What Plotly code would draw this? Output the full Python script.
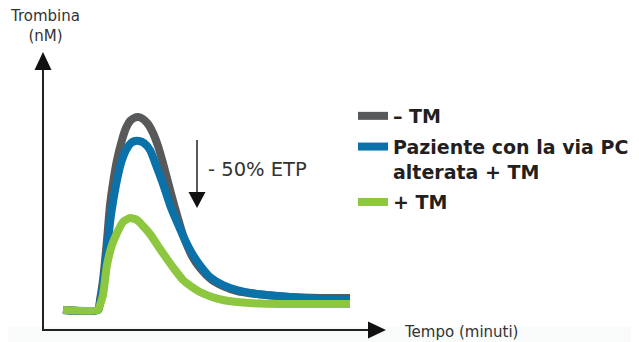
import plotly.graph_objects as go

# ---- data (time in minutes, thrombin in nM; schematic values) ----
t_grey = [2.1, 5.6, 5.8, 6.1, 6.5, 6.8, 7.1, 7.5, 8.0, 8.4, 8.8, 9.2, 9.6, 10.1, 10.6, 11.1, 11.6, 12.1, 12.6,
          13.3, 14.1, 15.0, 15.8, 17.0, 18.1, 19.5, 21.5, 24.8, 27.8, 30.8]
v_grey = [8.5, 8.5, 13.5, 23.5, 43.5, 61, 72, 83.5, 93.5, 99.5, 103, 104.5, 105, 104, 101.5, 97, 90.5, 82, 72.5,
          59.5, 46, 35.5, 29.5, 23.5, 20.5, 18, 16.5, 15, 14.5, 14.5]

t_blue = [2.1, 5.6, 5.8, 6.1, 6.5, 6.9, 7.4, 7.9, 8.4, 8.9, 9.3, 9.7, 10.2, 10.8, 11.4, 12.1, 12.8, 13.5, 14.3,
          15.1, 16.0, 16.8, 18.1, 19.5, 21.5, 24.8, 27.8, 30.8]
v_blue = [8.5, 8.5, 12.5, 21, 38.5, 56, 71, 82, 88.5, 92, 93, 93, 92, 88.5, 81, 71.5, 61, 52.5, 43.5,
          36, 29.5, 25, 21, 18.5, 16.5, 15, 14, 14]

t_green = [2.1, 5.6, 5.8, 6.1, 6.5, 7.0, 7.5, 8.1, 8.8, 9.5, 10.1, 10.8, 11.6, 12.5, 13.3, 14.1, 15.0, 15.8,
           17.0, 18.1, 19.5, 20.8, 23.8, 27.8, 30.8]
v_green = [8.5, 8.5, 11, 16, 31, 41, 47, 52.5, 54.5, 53.5, 50.5, 46.5, 40.5, 34, 28.5, 23.5, 20, 17.5,
           15, 13.5, 12.5, 12, 11.5, 11.5, 11.5]

names = ["<b>– TM</b>", "<b>Paziente con la via PC<br>alterata + TM</b>", "<b>+ TM</b>"]
colors = ["#58595b", "#0a72a8", "#8dc63f"]

# page body has an 8px margin: figure occupies window pixels 8..639 x 8..342
OFF = 8
W, H = 639 - OFF, 342 - OFF
X_RANGE = [-3.4, 59.7]
Y_RANGE = [-7.5, 159.5]


def px(x):
    return (x - OFF) / W


def py(y):
    return 1 - (y - OFF) / H


fig = go.Figure()
for tt, vv, nm, col in zip([t_grey, t_blue, t_green], [v_grey, v_blue, v_green], names, colors):
    fig.add_trace(go.Scatter(x=tt, y=vv, mode="lines", name=nm, legendgroup=nm,
                             line=dict(color=col, width=8, shape="spline", smoothing=0.6)))

shapes = []
# faint bottom band
shapes.append(dict(type="rect", xref="paper", yref="paper", x0=0, x1=1, y0=-0.05, y1=py(327),
                   fillcolor="#f9fbfb", line_width=0, layer="below"))
# y axis with arrow
shapes.append(dict(type="line", xref="paper", yref="paper", x0=px(43), x1=px(43), y0=py(330), y1=py(66),
                   line=dict(color="#222222", width=2)))
shapes.append(dict(type="path", xref="paper", yref="paper",
                   path=f"M {px(34.5)} {py(70)} L {px(51.5)} {py(70)} L {px(43)} {py(52)} Z",
                   fillcolor="#111111", line_width=0))
# x axis with arrow
shapes.append(dict(type="line", xref="paper", yref="paper", x0=px(42), x1=px(372), y0=py(330), y1=py(330),
                   line=dict(color="#222222", width=2)))
shapes.append(dict(type="path", xref="paper", yref="paper",
                   path=f"M {px(368)} {py(321.5)} L {px(368)} {py(338.5)} L {px(386)} {py(330)} Z",
                   fillcolor="#111111", line_width=0))
# ETP arrow
shapes.append(dict(type="line", xref="paper", yref="paper", x0=px(197), x1=px(197), y0=py(140), y1=py(195),
                   line=dict(color="#222222", width=1.5)))
shapes.append(dict(type="path", xref="paper", yref="paper",
                   path=f"M {px(188.5)} {py(192)} L {px(205.5)} {py(192)} L {px(197)} {py(208)} Z",
                   fillcolor="#111111", line_width=0))

annotations = [
    dict(text="Trombina<br>(nM)", x=px(45), y=py(26), xref="paper", yref="paper", showarrow=False,
         xanchor="center", yanchor="middle",
         font=dict(family="DejaVu Sans", size=15, color="#333333"), align="center"),
    dict(text="Tempo (minuti)", x=px(402), y=py(332), xref="paper", yref="paper", showarrow=False,
         xanchor="left", yanchor="middle", font=dict(family="DejaVu Sans", size=15, color="#333333")),
    dict(text="- 50% ETP", x=px(206), y=py(170), xref="paper", yref="paper", showarrow=False,
         xanchor="left", yanchor="middle", font=dict(family="DejaVu Sans", size=19.5, color="#333333")),
]

fig.update_layout(
    width=W, height=H,
    margin=dict(l=0, r=0, t=0, b=0),
    paper_bgcolor="white", plot_bgcolor="rgba(0,0,0,0)",
    xaxis=dict(range=X_RANGE, visible=False, fixedrange=True),
    yaxis=dict(range=Y_RANGE, visible=False, fixedrange=True),
    shapes=shapes, annotations=annotations,
    showlegend=True,
    legend=dict(x=px(353), y=py(97), xanchor="left", yanchor="top", bgcolor="rgba(0,0,0,0)",
                font=dict(family="DejaVu Sans", size=19, color="#231f20"),
                traceorder="grouped", tracegroupgap=3, valign="top", itemwidth=30),
)

fig.write_html("out.html")
